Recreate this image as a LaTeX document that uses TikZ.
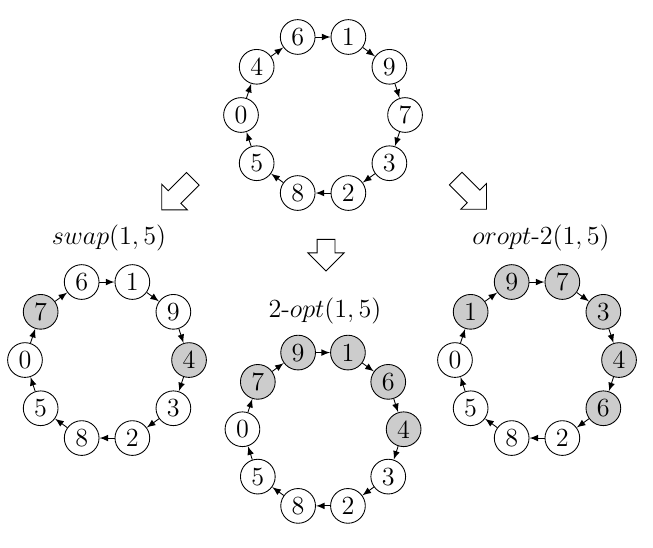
\documentclass[tikz,border=0pt]{standalone}
\usepackage{tikz}
\usetikzlibrary{shapes.arrows,positioning}
\usepackage{amsmath}

\tikzset{
  city/.style={circle, draw, minimum size=0.56cm, inner sep=0pt, font=\large},
  tour/.style={-latex},
  oplabel/.style={font=\large},
  bigarrow/.style={single arrow, draw, inner xsep=0pt, inner ysep=0.137cm, single arrow head extend=0.148cm}
}

\begin{document}
\begin{tikzpicture}
  \useasboundingbox (0,0) rectangle (10.532,8.823);
  % Original tour
  \begin{scope}[shift={(5.21,6.968)}]
    \foreach \lab/\col [count=\i] in {6/white,1/white,9/white,7/white,3/white,2/white,8/white,5/white,0/white,4/white}
      \node (orig\i) [city, fill=\col] at ({108-36*(\i-1)}:1.323) {\lab};
  \end{scope}
  \foreach \i [remember=\i as \j (initially 10)] in {1,...,10}
    \draw[tour] (orig\j) -- (orig\i);
  % swap
  \begin{scope}[shift={(1.726,3.016)}]
    \foreach \lab/\col [count=\i] in {6/white,1/white,9/white,4/black!20,3/white,2/white,8/white,5/white,0/white,7/black!20}
      \node (swap\i) [city, fill=\col] at ({108-36*(\i-1)}:1.323) {\lab};
  \end{scope}
  \foreach \i [remember=\i as \j (initially 10)] in {1,...,10}
    \draw[tour] (swap\j) -- (swap\i);
  % 2-opt
  \begin{scope}[shift={(5.21,1.90)}]
    \foreach \lab/\col [count=\i] in {9/black!20,1/black!20,6/black!20,4/black!20,3/white,2/white,8/white,5/white,0/white,7/black!20}
      \node (twoopt\i) [city, fill=\col] at ({108-36*(\i-1)}:1.30) {\lab};
  \end{scope}
  \foreach \i [remember=\i as \j (initially 10)] in {1,...,10}
    \draw[tour] (twoopt\j) -- (twoopt\i);
  % or-opt
  \begin{scope}[shift={(8.661,3.016)}]
    \foreach \lab/\col [count=\i] in {9/black!20,7/black!20,3/black!20,4/black!20,6/black!20,2/white,8/white,5/white,0/white,1/black!20}
      \node (oropt\i) [city, fill=\col] at ({108-36*(\i-1)}:1.323) {\lab};
  \end{scope}
  \foreach \i [remember=\i as \j (initially 10)] in {1,...,10}
    \draw[tour] (oropt\j) -- (oropt\i);
  % Labels
  \node (swaplabel) [oplabel] at (1.758,4.985) {$swap(1,5)$};
  \node (twooptlabel) [oplabel] at (5.242,3.806) {2-$opt(1,5)$};
  \node (oroptlabel) [oplabel] at (8.726,4.985) {$oropt$-$2(1,5)$};
  % Block arrows
  \node (swaparrow) [bigarrow, minimum height=0.71cm, rotate=-135] at (2.91,5.74) {};
  \node (twooptarrow) [bigarrow, minimum height=0.51cm, rotate=-90] at (5.258,4.78) {};
  \node (oroptarrow) [bigarrow, minimum height=0.70cm, rotate=-45] at (7.547,5.746) {};
\end{tikzpicture}
\end{document}
